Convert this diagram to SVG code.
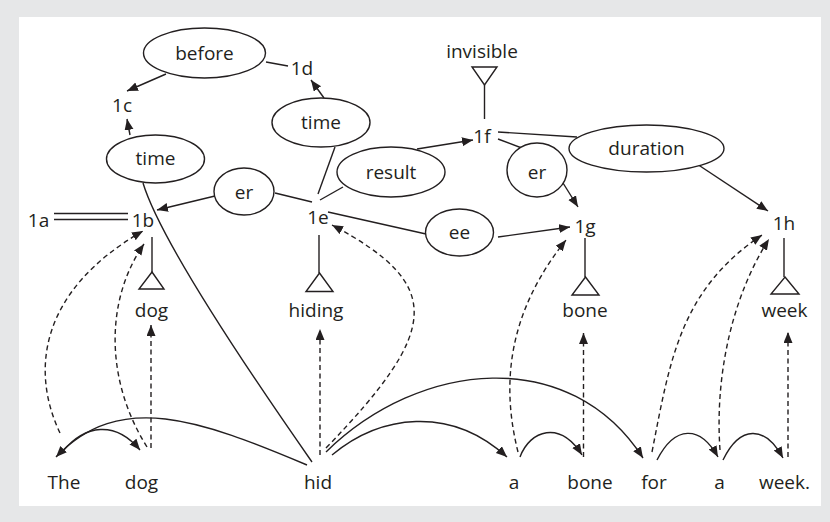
<svg xmlns="http://www.w3.org/2000/svg" width="830" height="522" viewBox="0 0 830 522">
  <style>
    text { font-family: "Open Sans", "Noto Sans", "Liberation Sans", sans-serif; font-size: 19px; fill: #231f20; text-anchor: middle; }
    .rel { fill: #ffffff; stroke: #231f20; stroke-width: 1.4; }
    .ln { fill: none; stroke: #231f20; stroke-width: 1.4; }
    .dash { fill: none; stroke: #231f20; stroke-width: 1.4; stroke-dasharray: 5 3.5; }
    .tri { fill: #ffffff; stroke: #231f20; stroke-width: 1.4; }
  </style>
  <defs>
    <marker id="head" markerUnits="userSpaceOnUse" markerWidth="12" markerHeight="10" refX="11" refY="4.5" orient="auto">
      <path d="M0,0 L11,4.5 L0,9 z" fill="#231f20"/>
    </marker>
  </defs>

  <rect x="0" y="0" width="830" height="522" fill="#e6e7e8"/>
  <rect x="19" y="17" width="802" height="489" fill="#ffffff"/>

  <!-- connectors -->
  <g id="connectors">
    <!-- semantic links -->
    <line class="ln" x1="166" y1="74" x2="127" y2="91" marker-end="url(#head)"/>
    <line class="ln" x1="130" y1="135" x2="127" y2="119" marker-end="url(#head)"/>
    <line class="ln" x1="266" y1="62" x2="288" y2="66"/>
    <line class="ln" x1="324" y1="98" x2="311" y2="80" marker-end="url(#head)"/>
    <line class="ln" x1="335" y1="147" x2="318" y2="194"/>
    <line class="ln" x1="343" y1="187" x2="320" y2="200"/>
    <line class="ln" x1="275" y1="193" x2="312" y2="202"/>
    <line class="ln" x1="215" y1="196" x2="157" y2="210" marker-end="url(#head)"/>
    <line class="ln" x1="328" y1="212" x2="426" y2="234"/>
    <line class="ln" x1="498" y1="237" x2="570" y2="227" marker-end="url(#head)"/>
    <line class="ln" x1="417" y1="149" x2="473" y2="140" marker-end="url(#head)"/>
    <line class="ln" x1="498" y1="132" x2="577" y2="137"/>
    <line class="ln" x1="498" y1="139" x2="527" y2="150"/>
    <line class="ln" x1="563" y1="183" x2="578" y2="207" marker-end="url(#head)"/>
    <line class="ln" x1="697" y1="164" x2="768" y2="211" marker-end="url(#head)"/>
    <line class="ln" x1="54" y1="213.5" x2="128" y2="213.5"/>
    <line class="ln" x1="54" y1="219.5" x2="128" y2="219.5"/>
    <path class="ln" d="M143,183 Q163,249 312,462"/>

    <!-- isa links to lexemes -->
    <line class="ln" x1="152" y1="237" x2="152" y2="272"/>
    <line class="ln" x1="319" y1="235" x2="319" y2="273"/>
    <line class="ln" x1="585" y1="238" x2="585" y2="277"/>
    <line class="ln" x1="784" y1="238" x2="784" y2="277"/>
    <line class="ln" x1="484.5" y1="85" x2="484.5" y2="119"/>

    <!-- word-to-node dashed links -->
    <path class="dash" d="M60,433 C30,370 40,290 143,231" marker-end="url(#head)"/>
    <path class="dash" d="M147,447 C105,380 105,300 144,244" marker-end="url(#head)"/>
    <line class="dash" x1="151" y1="448" x2="151" y2="325" marker-end="url(#head)"/>
    <line class="dash" x1="320" y1="455" x2="320" y2="329" marker-end="url(#head)"/>
    <path class="dash" d="M326,448 C440,330 445,285 332,225" marker-end="url(#head)"/>
    <path class="dash" d="M518,452 C500,380 510,310 566,240" marker-end="url(#head)"/>
    <line class="dash" x1="583.5" y1="457" x2="583.5" y2="333" marker-end="url(#head)"/>
    <path class="dash" d="M652,452 C670,360 680,290 762,235" marker-end="url(#head)"/>
    <path class="dash" d="M720,450 C715,380 730,300 769,239" marker-end="url(#head)"/>
    <line class="dash" x1="788" y1="457" x2="788" y2="332" marker-end="url(#head)"/>

    <!-- syntactic dependencies -->
    <path class="ln" d="M307,465 C200,420 120,390 56,457" marker-end="url(#head)"/>
    <path class="ln" d="M63,451 C85,425 115,420 140,450" marker-end="url(#head)"/>
    <path class="ln" d="M332,455 C380,415 450,405 507,457" marker-end="url(#head)"/>
    <path class="ln" d="M326,452 C420,360 570,345 643,458" marker-end="url(#head)"/>
    <path class="ln" d="M520,457 C530,430 560,420 582,455" marker-end="url(#head)"/>
    <path class="ln" d="M657,460 C675,425 700,425 718,457" marker-end="url(#head)"/>
    <path class="ln" d="M723,460 C740,425 765,425 783,458" marker-end="url(#head)"/>
  </g>

  <!-- relation nodes -->
  <g id="rel-before"><ellipse class="rel" cx="204.5" cy="53" rx="61" ry="25"/><text x="204.5" y="60">before</text></g>
  <g id="rel-time-1"><ellipse class="rel" cx="155.5" cy="159" rx="49" ry="24"/><text x="155.5" y="165">time</text></g>
  <g id="rel-time-2"><ellipse class="rel" cx="321" cy="122.5" rx="49" ry="24.5"/><text x="321" y="129">time</text></g>
  <g id="rel-er-1"><ellipse class="rel" cx="244" cy="191.5" rx="30" ry="23.5"/><text x="244" y="199">er</text></g>
  <g id="rel-result"><ellipse class="rel" cx="391" cy="172" rx="54" ry="25"/><text x="391" y="179">result</text></g>
  <g id="rel-er-2"><ellipse class="rel" cx="537" cy="170" rx="30" ry="27"/><text x="537" y="179">er</text></g>
  <g id="rel-duration"><ellipse class="rel" cx="646.5" cy="148.5" rx="77.5" ry="23.5"/><text x="646.5" y="155">duration</text></g>
  <g id="rel-ee"><ellipse class="rel" cx="459.5" cy="232.5" rx="34" ry="23.5"/><text x="459.5" y="239">ee</text></g>

  <!-- concept nodes -->
  <g id="n1a"><text x="38.5" y="227">1a</text></g>
  <g id="n1b"><text x="143" y="227">1b</text></g>
  <g id="n1c"><text x="122" y="112">1c</text></g>
  <g id="n1d"><text x="302" y="75">1d</text></g>
  <g id="n1e"><text x="318" y="224">1e</text></g>
  <g id="n1f"><text x="482" y="143">1f</text></g>
  <g id="n1g"><text x="585" y="233">1g</text></g>
  <g id="n1h"><text x="784" y="230">1h</text></g>

  <!-- lexemes -->
  <g id="lex-dog"><polygon class="tri" points="152,272 164,289 139,289"/><text x="151.5" y="317">dog</text></g>
  <g id="lex-hiding"><polygon class="tri" points="319.5,273 333,291.5 306,291.5"/><text x="316" y="317">hiding</text></g>
  <g id="lex-bone"><polygon class="tri" points="585.5,277 599,295 572,295"/><text x="585" y="317">bone</text></g>
  <g id="lex-week"><polygon class="tri" points="785,277 799,294 771,294"/><text x="784.5" y="317">week</text></g>
  <g id="lex-invisible"><polygon class="tri" points="472,67 497,67 484.5,85"/><text x="482" y="58">invisible</text></g>

  <!-- words -->
  <g id="w-the"><text x="64" y="489">The</text></g>
  <g id="w-dog"><text x="141.5" y="489">dog</text></g>
  <g id="w-hid"><text x="318" y="489">hid</text></g>
  <g id="w-a1"><text x="514" y="489">a</text></g>
  <g id="w-bone"><text x="590" y="489">bone</text></g>
  <g id="w-for"><text x="654" y="489">for</text></g>
  <g id="w-a2"><text x="719.5" y="489">a</text></g>
  <g id="w-week"><text x="784.5" y="489">week.</text></g>
</svg>
